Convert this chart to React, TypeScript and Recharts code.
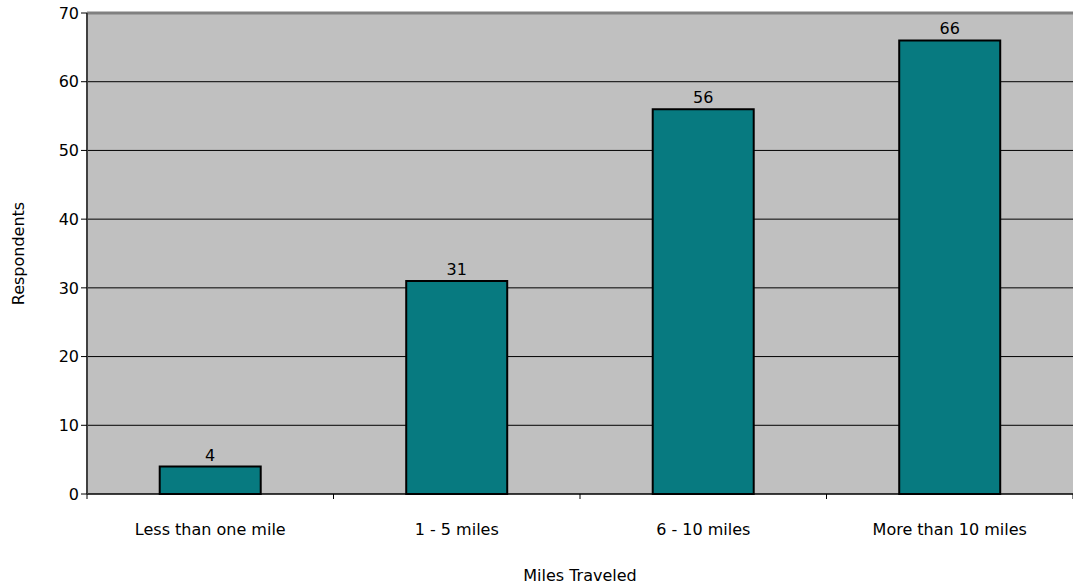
import React from 'react';
import { BarChart, Bar, XAxis, YAxis, CartesianGrid, LabelList, ReferenceLine } from 'recharts';

const categories = ['Less than one mile', '1 - 5 miles', '6 - 10 miles', 'More than 10 miles'];
const respondents = [4, 31, 56, 66];
const yTicks = [0, 10, 20, 30, 40, 50, 60, 70];

const data = categories.map((name, i) => ({ name, value: respondents[i] }));

const FONT = '"DejaVu Sans", sans-serif';

function CategoryTick(props: any) {
  const { x, y, payload, index } = props;
  const half = payload && payload.offset ? payload.offset : 123;
  return (
    <g>
      {index === 0 && <line x1={x - half} y1={y - 8} x2={x - half} y2={y - 3} stroke="#000" />}
      <line x1={x + half} y1={y - 8} x2={x + half} y2={y - 3} stroke="#000" />
      <text x={x} y={y + 33} textAnchor="middle" fill="#000" fontSize={16} fontFamily={FONT}>
        {payload.value}
      </text>
    </g>
  );
}

export default function App() {
  return (
    <div style={{ position: 'absolute', left: 0, top: 0, width: 1073, height: 585, background: '#fff' }}>
      <BarChart
        width={1073}
        height={585}
        data={data}
        margin={{ top: 13, right: 0, bottom: 0, left: 0 }}
        barCategoryGap="29.5%"
      >
        <CartesianGrid vertical={false} horizontal={true} stroke="#000" strokeWidth={1} fill="#C0C0C0" />
        <XAxis
          dataKey="name"
          height={91}
          axisLine={{ stroke: '#000', strokeWidth: 1 }}
          tickLine={false}
          tick={<CategoryTick />}
          interval={0}
          label={{ value: 'Miles Traveled', position: 'insideBottom', offset: 4, fill: '#000', fontSize: 16, fontFamily: FONT }}
        />
        <YAxis
          width={87}
          domain={[0, 70]}
          ticks={yTicks}
          interval={0}
          axisLine={{ stroke: '#404040', strokeWidth: 2 }}
          tickLine={{ stroke: '#000' }}
          tickSize={6}
          tick={{ fill: '#000', fontSize: 16, fontFamily: FONT }}
          label={{ value: 'Respondents', angle: -90, position: 'insideLeft', offset: 18, fill: '#000', fontSize: 16, fontFamily: FONT, style: { textAnchor: 'middle' } }}
        />
        <ReferenceLine y={70} stroke="#808080" strokeWidth={3} />
        <Bar dataKey="value" fill="#077A80" stroke="#000" strokeWidth={2} isAnimationActive={false}>
          <LabelList dataKey="value" position="top" offset={6} fill="#000" fontSize={16} fontFamily={FONT} />
        </Bar>
      </BarChart>
    </div>
  );
}
